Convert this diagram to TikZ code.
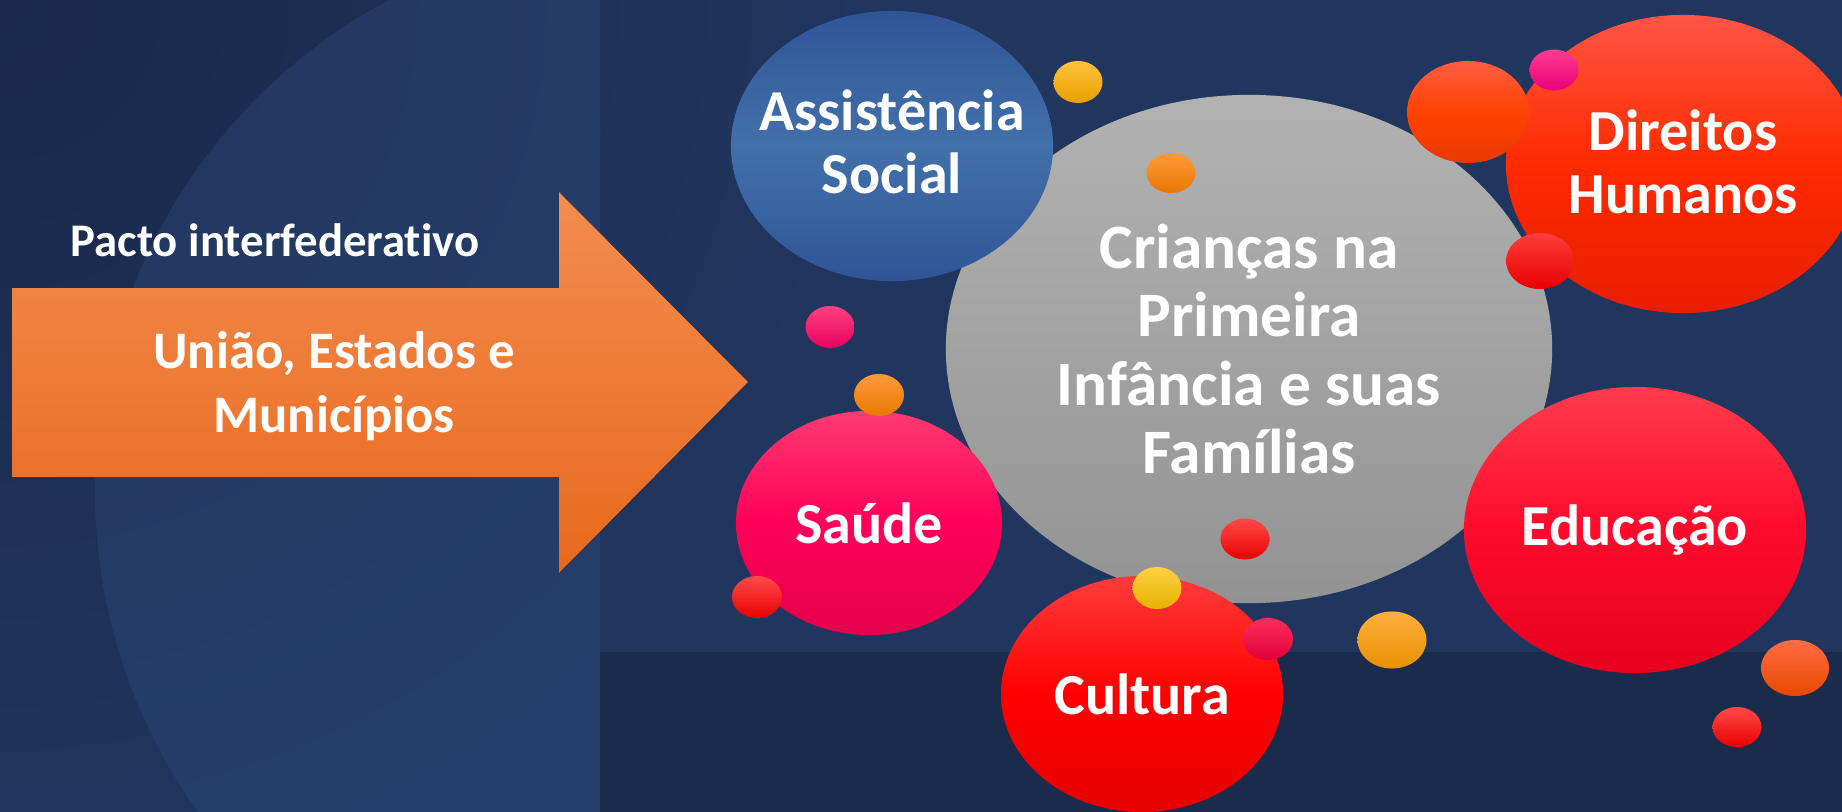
\documentclass[tikz,border=0pt]{standalone}
\usepackage{fontspec}
\setmainfont{Carlito}[Ligatures=NoCommon]
\usetikzlibrary{shapes.geometric}

\definecolor{fundoA}{HTML}{19284A}
\definecolor{fundoB}{HTML}{21365F}
\definecolor{circulo}{HTML}{2A4575}
\definecolor{setaA}{HTML}{F38C50}
\definecolor{setaB}{HTML}{E8691C}
\definecolor{cinzaA}{HTML}{B2B2B2}
\definecolor{cinzaB}{HTML}{939393}
\definecolor{azulA}{HTML}{2F5597}
\definecolor{azulM}{HTML}{4270AA}
\definecolor{rosaA}{HTML}{FF3A72}
\definecolor{rosaM}{HTML}{FF0058}
\definecolor{rosaB}{HTML}{E4004C}
\definecolor{educA}{HTML}{FF3C4C}
\definecolor{educM}{HTML}{FF0A2C}
\definecolor{educB}{HTML}{E6001E}
\definecolor{dirA}{HTML}{FF5545}
\definecolor{dirM}{HTML}{FF2A00}
\definecolor{dirB}{HTML}{E81E00}
\definecolor{vermA}{HTML}{FF3C3C}
\definecolor{vermM}{HTML}{FF0000}
\definecolor{vermB}{HTML}{E60000}
\definecolor{amarA}{HTML}{FFC23C}
\definecolor{amarB}{HTML}{E8A000}
\definecolor{ourA}{HTML}{FFD244}
\definecolor{ourB}{HTML}{E8B000}
\definecolor{laraA}{HTML}{FF9A3C}
\definecolor{laraB}{HTML}{E87800}
\definecolor{douA}{HTML}{FFB040}
\definecolor{douB}{HTML}{E89000}
\definecolor{fogoA}{HTML}{FF6C44}
\definecolor{fogoB}{HTML}{E84800}
\definecolor{telhaA}{HTML}{FF5C44}
\definecolor{telhaM}{HTML}{FF4200}
\definecolor{telhaB}{HTML}{E83A00}
\definecolor{pinkA}{HTML}{FF4282}
\definecolor{pinkB}{HTML}{E8005E}
\definecolor{magA}{HTML}{FF3C90}
\definecolor{magB}{HTML}{E8007A}
\definecolor{carmA}{HTML}{FF2E5C}
\definecolor{carmB}{HTML}{E0003A}
\definecolor{rubiA}{HTML}{FF4A4A}
\definecolor{rubiB}{HTML}{E80000}

\tikzset{
    tema/.style={shape=ellipse, inner sep=0pt},
    bolha/.style={shape=ellipse, inner sep=0pt},
    rotulo/.style={text=white, align=center, font=\fontsize{16.5}{17.8}\selectfont\bfseries},
}

\begin{document}
\begin{tikzpicture}[x=0.01cm, y=-0.01cm]
                \useasboundingbox (0,0) rectangle (1842,812);
                \clip (0,0) rectangle (1842,812);

                % fundo
                \fill[fundoB] (0,0) rectangle (1842,812);
                \shade[inner color=fundoA, outer color=fundoB] (0,0) circle [radius=900];
                \begin{scope}
                    \clip (0,0) rectangle (600,812);
                    \fill[circulo, opacity=0.5] (650,490) circle [radius=555];
                \end{scope}
                \fill[black, opacity=0.2] (600,652) rectangle (1842,812);

                % seta
                \fill[top color=setaA, bottom color=setaB] (12,288) -- (559,288) -- (559,192) -- (748,382)
                    -- (559,573) -- (559,477) -- (12,477) -- cycle;
                \node (pacto) at (275, 240) [text=white, font=\fontsize{13.3}{16}\selectfont\bfseries] {Pacto interfederativo};
                \node (entes) at (334, 386) [text=white, align=center, font=\fontsize{15}{18}\selectfont\bfseries] {União, Estados e\\Municípios};

                % temas
                \node (criancas) at (1249, 349) [tema, minimum width=6.06cm, minimum height=5.08cm,
                    top color=cinzaA, bottom color=cinzaB] {};
                \node (assist) at (892, 146) [tema, minimum width=3.22cm, minimum height=2.70cm,
                    top color=azulA, bottom color=azulA, middle color=azulM] {};
                \node (saude) at (869, 523) [tema, minimum width=2.66cm, minimum height=2.24cm,
                    top color=rosaA, bottom color=rosaB, middle color=rosaM] {};
                \node (educ) at (1635, 530) [tema, minimum width=3.42cm, minimum height=2.86cm,
                    top color=educA, bottom color=educB, middle color=educM] {};
                \node (direitos) at (1683, 164) [tema, minimum width=3.54cm, minimum height=2.98cm,
                    top color=dirA, bottom color=dirB, middle color=dirM] {};
                \node (cultura) at (1142, 694) [tema, minimum width=2.82cm, minimum height=2.36cm,
                    top color=vermA, bottom color=vermB, middle color=vermM] {};

                \node (criancasT) at (criancas) [rotulo, font=\fontsize{18}{19.5}\selectfont\bfseries] {Crianças na\\Primeira\\Infância e suas\\Famílias};
                \node (assistT) at (892, 142) [rotulo] {Assistência\\Social};
                \node (saudeT) at (saude) [rotulo] {Saúde};
                \node (educT) at (educ) [rotulo] {Educação};
                \node (direitosT) at (1683, 162) [rotulo] {Direitos\\Humanos};
                \node (culturaT) at (cultura) [rotulo] {Cultura};

                % bolhas
                \node (b1) at (1078, 82) [bolha, minimum width=0.49cm, minimum height=0.42cm, top color=amarA, bottom color=amarB] {};
                \node (b2) at (1171, 173) [bolha, minimum width=0.49cm, minimum height=0.40cm, top color=laraA, bottom color=laraB] {};
                \node (b3) at (830, 327) [bolha, minimum width=0.49cm, minimum height=0.42cm, top color=pinkA, bottom color=pinkB] {};
                \node (b4) at (879, 395) [bolha, minimum width=0.50cm, minimum height=0.42cm, top color=laraA, bottom color=laraB] {};
                \node (b5) at (757, 597) [bolha, minimum width=0.50cm, minimum height=0.42cm, top color=rubiA, bottom color=rubiB] {};
                \node (b6) at (1245, 539) [bolha, minimum width=0.49cm, minimum height=0.41cm, top color=rubiA, bottom color=rubiB] {};
                \node (b7) at (1157, 588) [bolha, minimum width=0.49cm, minimum height=0.42cm, top color=ourA, bottom color=ourB] {};
                \node (b8) at (1268, 639) [bolha, minimum width=0.50cm, minimum height=0.42cm, top color=carmA, bottom color=carmB] {};
                \node (b9) at (1392, 640) [bolha, minimum width=0.69cm, minimum height=0.57cm, top color=douA, bottom color=douB] {};
                \node (b10) at (1795, 668) [bolha, minimum width=0.68cm, minimum height=0.56cm, top color=fogoA, bottom color=fogoB] {};
                \node (b11) at (1737, 727) [bolha, minimum width=0.49cm, minimum height=0.40cm, top color=rubiA, bottom color=rubiB] {};
                \node (b12) at (1468, 112) [bolha, minimum width=1.22cm, minimum height=1.02cm, top color=telhaA, bottom color=telhaB, middle color=telhaM] {};
                \node (b13) at (1554, 70) [bolha, minimum width=0.49cm, minimum height=0.41cm, top color=magA, bottom color=magB] {};
                \node (b14) at (1540, 261) [bolha, minimum width=0.68cm, minimum height=0.56cm, top color=vermA, bottom color=rubiB] {};
\end{tikzpicture}
\end{document}
